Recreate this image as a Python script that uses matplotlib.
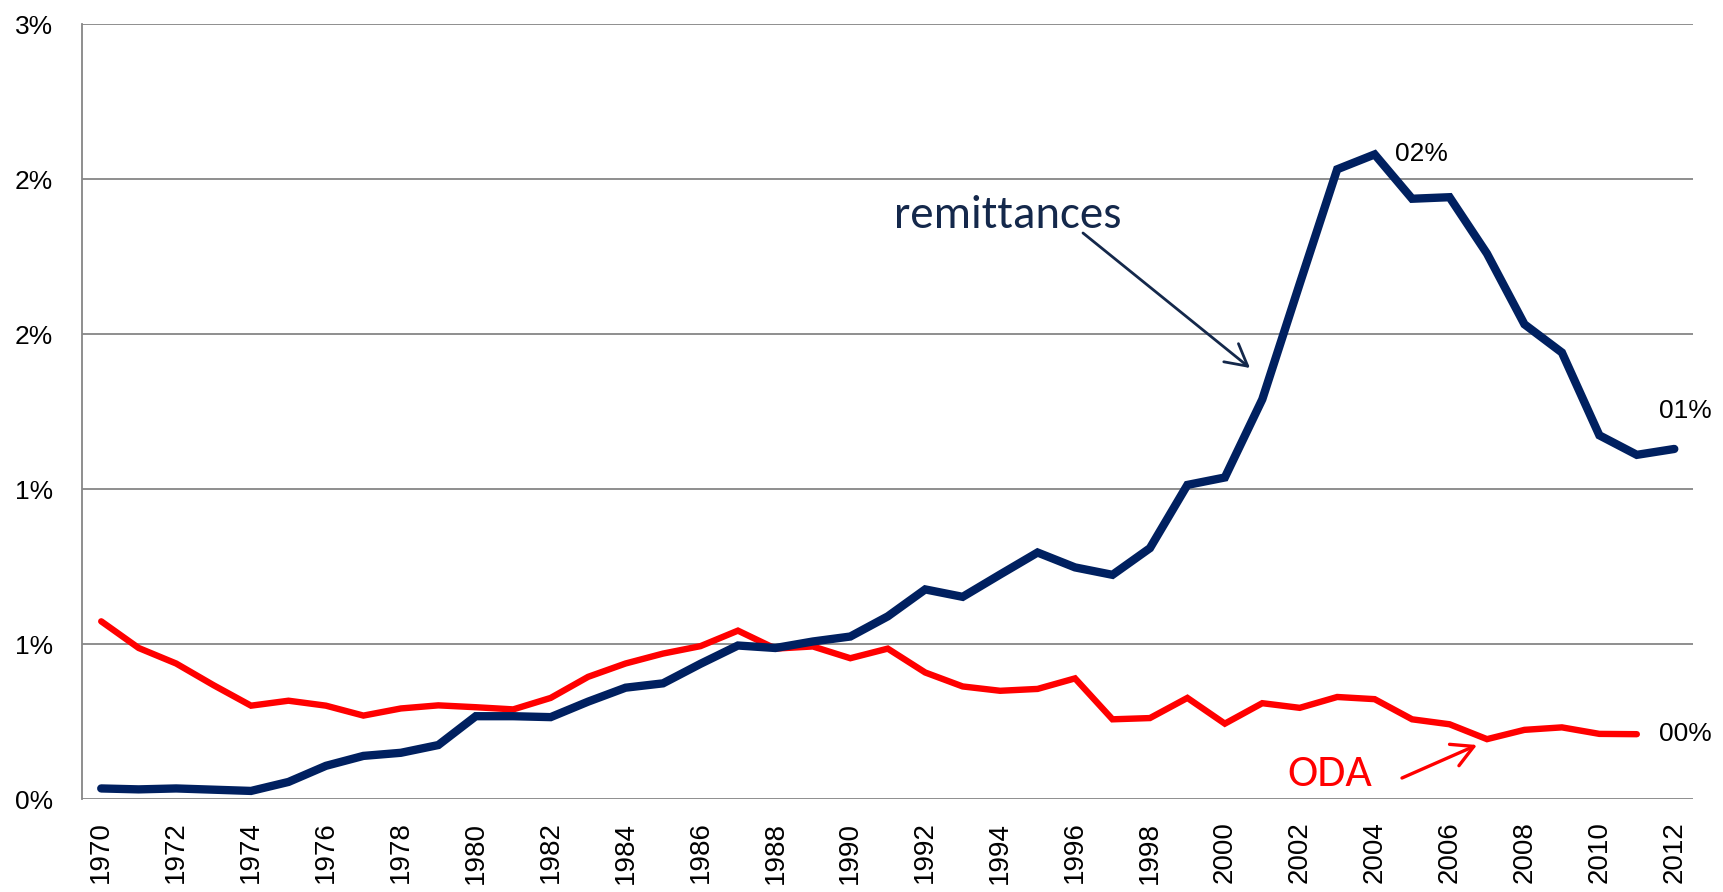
import matplotlib
matplotlib.use("Agg")
import matplotlib.pyplot as plt
from matplotlib import font_manager as fm

# ---------------- data ----------------
years = list(range(1970, 2013))
remittances = [0.035, 0.032, 0.035, 0.031, 0.027, 0.056, 0.108, 0.140, 0.150, 0.175,
               0.268, 0.268, 0.265, 0.315, 0.360, 0.374, 0.437, 0.496, 0.488, 0.509,
               0.525, 0.590, 0.677, 0.653, 0.725, 0.796, 0.748, 0.724, 0.810, 1.014,
               1.038, 1.290, 1.663, 2.032, 2.080, 1.937, 1.942, 1.760, 1.532, 1.441,
               1.174, 1.111, 1.130]
oda_years = list(range(1970, 2012))
oda = [0.574, 0.488, 0.438, 0.368, 0.302, 0.318, 0.302, 0.270, 0.293, 0.303,
       0.297, 0.290, 0.327, 0.395, 0.438, 0.470, 0.494, 0.544, 0.486, 0.493,
       0.455, 0.486, 0.409, 0.364, 0.350, 0.356, 0.390, 0.258, 0.262, 0.327,
       0.244, 0.310, 0.295, 0.330, 0.323, 0.258, 0.242, 0.194, 0.224, 0.232,
       0.211, 0.210]
ytick_values = [0.0, 0.5, 1.0, 1.5, 2.0, 2.5]
ytick_labels = ["0%", "1%", "1%", "2%", "2%", "3%"]
xtick_years = list(range(1970, 2013, 2))
peak_label = "02%"
rem_end_label = "01%"
oda_end_label = "00%"

# ---------------- fonts ----------------
avail = {f.name for f in fm.fontManager.ttflist}
def pick(*names):
    for n in names:
        if n in avail:
            return n
    return "DejaVu Sans"
sans = pick("Liberation Sans", "Arial", "DejaVu Sans")
calib = pick("Carlito", "Calibri", "Lato", "Open Sans")

NAVY = "#002060"
RED = "#FF0000"
GRID = "#868686"

W, H = 1724, 892
fig = plt.figure(figsize=(W / 100, H / 100), dpi=100)
L, R, T, B = 82.5, 1693, 24.2, 799.3
ax = fig.add_axes([L / W, 1 - B / H, (R - L) / W, (B - T) / H])

xi = {y: i for i, y in enumerate(years)}
rx = [xi[y] for y in years]
ox = [xi[y] for y in oda_years]

ax.plot(ox, oda, color=RED, lw=4.6, solid_capstyle="round", solid_joinstyle="miter", zorder=3)
ax.plot(rx, remittances, color=NAVY, lw=6.0, solid_capstyle="round", solid_joinstyle="miter", zorder=4)

ax.set_xlim(-0.5, len(years) - 0.5)
ax.set_ylim(0, 2.5)
ax.set_yticks(ytick_values)
ax.set_yticklabels(ytick_labels)
ax.set_xticks([xi[y] for y in xtick_years])
ax.set_xticklabels([str(y) for y in xtick_years])
ax.tick_params(axis="y", length=0, pad=21, labelsize=19)
ax.tick_params(axis="x", length=0, pad=16, labelsize=20, labelrotation=90)
for lab in ax.get_xticklabels() + ax.get_yticklabels():
    lab.set_fontfamily(sans)
ax.grid(axis="y", color=GRID, lw=1.3)
ax.set_axisbelow(True)
for s in ["top", "right", "bottom"]:
    ax.spines[s].set_visible(False)
ax.spines["left"].set_color(GRID)
ax.spines["left"].set_linewidth(1.3)

# data labels
ipk = remittances.index(max(remittances))
ax.annotate(peak_label, (rx[ipk], remittances[ipk]), xytext=(15, 0), textcoords="offset points",
            ha="left", va="center", fontfamily=sans, fontsize=19)
ax.annotate(rem_end_label, (rx[-1], remittances[-1]), xytext=(8, 27), textcoords="offset points",
            ha="center", va="center", fontfamily=sans, fontsize=19)
ax.annotate(oda_end_label, (ox[-1], oda[-1]), xytext=(16, 0), textcoords="offset points",
            ha="left", va="center", fontfamily=sans, fontsize=19)

# series text labels, sized to target pixel width
fig.canvas.draw()
rend = fig.canvas.get_renderer()

def fitted_text(s, x_px, y_px, target_w, color, fs0):
    t = fig.text(x_px / W, 1 - y_px / H, s, fontfamily=calib, fontsize=fs0, color=color,
                 ha="left", va="baseline")
    w = t.get_window_extent(rend).width
    t.set_fontsize(fs0 * target_w / w)
    return t

fitted_text("remittances", 894, 228, 228, "#14284B", 32)
fitted_text("ODA", 1287, 786, 85, RED, 32)

ax.annotate("", xy=(1250, H - 368), xycoords="figure pixels",
            xytext=(1083, H - 233), textcoords="figure pixels",
            arrowprops=dict(arrowstyle="->,head_length=0.55,head_width=0.3", color="#14284B",
                            lw=2.0, mutation_scale=28, shrinkA=0, shrinkB=0))
ax.annotate("", xy=(1477, H - 745), xycoords="figure pixels",
            xytext=(1402, H - 778), textcoords="figure pixels",
            arrowprops=dict(arrowstyle="->,head_length=0.55,head_width=0.3", color=RED,
                            lw=2.4, mutation_scale=28, shrinkA=0, shrinkB=0))

fig.savefig("out.png", dpi=100)
